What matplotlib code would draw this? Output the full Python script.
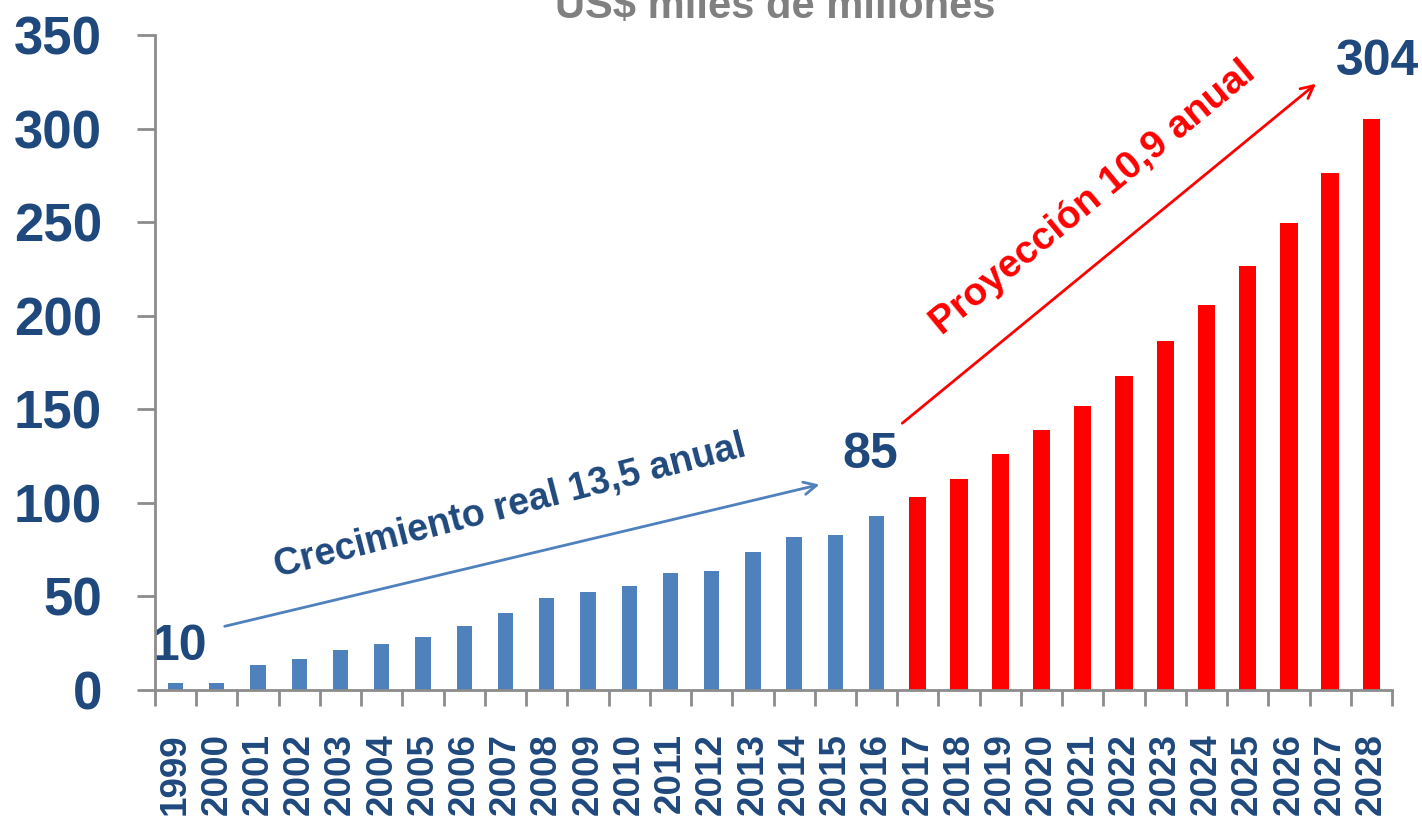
import matplotlib
matplotlib.use("Agg")
import matplotlib.pyplot as plt
import numpy as np

years = [str(y) for y in range(1999, 2029)]
hist_values = [4, 4, 13.5, 16.5, 21.5, 24.5, 28.5, 34, 41, 49, 52.5, 55.5, 62.5, 63.5, 74, 82, 83, 93]
proj_values = [103, 113, 126, 139, 152, 168, 186.5, 205.5, 226.5, 249.5, 276, 305]
yticks = [0, 50, 100, 150, 200, 250, 300, 350]
point_labels = ["10", "85", "304"]
title_text = "US$ miles de millones"
growth_hist = "Crecimiento real 13,5 anual"
growth_proj = "Proyección 10,9 anual"

NAVY = "#1F497D"
BLUE = "#4F81BD"
RED = "#FF0000"
GRAY = "#8C8C8C"
FONT = ["Liberation Sans", "DejaVu Sans"]

plt.rcParams["font.family"] = FONT

fig = plt.figure(figsize=(14.22, 8.17), dpi=100)
ax = fig.add_axes([155/1422, 1-690/817, (1392-155)/1422, (690-35)/817])

n_hist = len(hist_values)
x_hist = np.arange(n_hist)
x_proj = np.arange(n_hist, n_hist + len(proj_values))
ax.bar(x_hist, hist_values, width=0.37, color=BLUE, zorder=2)
ax.bar(x_proj, proj_values, width=0.42, color=RED, zorder=2)

ax.set_xlim(-0.5, len(years) - 0.5)
ax.set_ylim(0, 350)

for s in ["top", "right"]:
    ax.spines[s].set_visible(False)
for s in ["left", "bottom"]:
    ax.spines[s].set_color(GRAY)
    ax.spines[s].set_linewidth(2)
    ax.spines[s].set_zorder(3)

ax.set_yticks(yticks)
ax.set_yticklabels([str(v) for v in yticks], fontsize=38, fontweight="bold", color=NAVY)
ax.tick_params(axis="y", length=13, width=2, color=GRAY, pad=25)

ax.set_xticks(np.arange(len(years)))
ax.set_xticklabels(years, rotation=90, fontsize=26.5, fontweight="bold", color=NAVY)
ax.tick_params(axis="x", which="major", length=0, pad=31)
ax.set_xticks(np.arange(len(years) + 1) - 0.5, minor=True)
ax.tick_params(axis="x", which="minor", length=11.5, width=2, color=GRAY)

# arrows
ax.annotate("", xy=(15.68, 110.1), xytext=(1.125, 33.7),
            arrowprops=dict(arrowstyle="->,head_length=0.9,head_width=0.45", color=BLUE, lw=2),
            annotation_clip=False)
ax.annotate("", xy=(27.71, 324.9), xytext=(17.57, 141.6),
            arrowprops=dict(arrowstyle="->,head_length=0.9,head_width=0.45", color=RED, lw=2),
            annotation_clip=False)

ax.text(8.11, 97.8, growth_hist, rotation=14.5, rotation_mode="anchor",
        ha="center", va="center", fontsize=27, fontweight="bold", color=NAVY)
ax.text(22.25, 262.9, growth_proj, rotation=39.5, rotation_mode="anchor",
        ha="center", va="center", fontsize=28, fontweight="bold", color=RED)

label_pos = [(0.106, 23), (16.84, 125.6), (29.16, 335.6)]
for (lx, ly), t in zip(label_pos, point_labels):
    ax.text(lx, ly, t, ha="center", va="center", fontsize=36, fontweight="bold",
            color=NAVY, clip_on=False)

fig.text(775/1422, 1-18/817, title_text, ha="center", va="baseline",
         fontsize=30, fontweight="bold", color="#808080")

fig.savefig("out.png", dpi=100)
